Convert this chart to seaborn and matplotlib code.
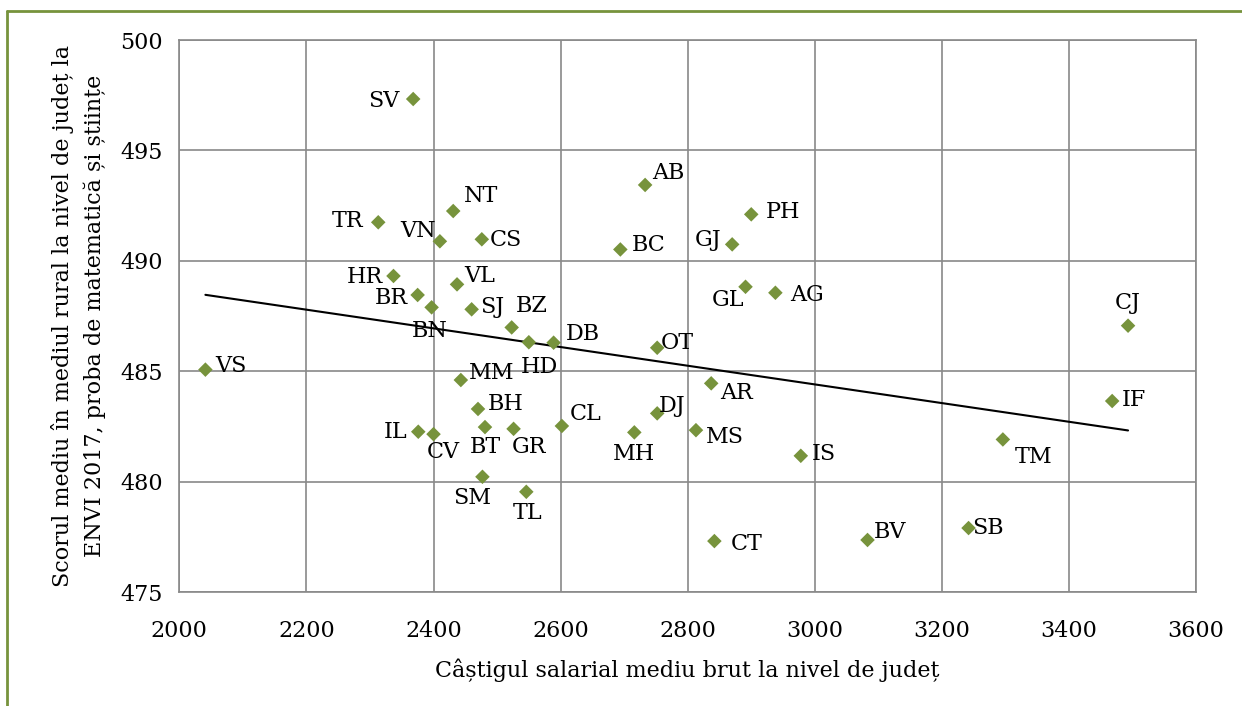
import numpy as np
import pandas as pd
import seaborn as sns
import matplotlib.pyplot as plt
from matplotlib.lines import Line2D

# date
judete = ['SV', 'NT', 'TR', 'VN', 'CS', 'HR', 'VL', 'BR', 'BN', 'SJ', 'BZ', 'HD', 'VS', 'MM',
          'BH', 'IL', 'CV', 'BT', 'GR', 'SM', 'TL', 'AB', 'PH', 'BC', 'GJ', 'GL', 'AG', 'DB',
          'OT', 'AR', 'CL', 'DJ', 'MH', 'MS', 'IS', 'CT', 'BV', 'CJ', 'IF', 'TM', 'SB']
salariu = [2368, 2431, 2313, 2410, 2476, 2337, 2437, 2375, 2397, 2460, 2523, 2550, 2041, 2443,
           2470, 2376, 2400, 2481, 2526, 2477, 2546, 2733, 2900, 2694, 2870, 2891, 2938, 2589,
           2752, 2837, 2602, 2752, 2716, 2813, 2978, 2842, 3083, 3493, 3468, 3296, 3242]
scor = [497.33, 492.26, 491.75, 490.89, 490.98, 489.32, 488.94, 488.46, 487.90, 487.81, 486.99,
        486.32, 485.08, 484.61, 483.30, 482.27, 482.16, 482.48, 482.40, 480.23, 479.55, 493.44,
        492.11, 490.52, 490.75, 488.83, 488.56, 486.30, 486.07, 484.46, 482.53, 483.10, 482.24,
        482.34, 481.18, 477.32, 477.37, 487.07, 483.66, 481.92, 477.91]

x_ticks = [2000, 2200, 2400, 2600, 2800, 3000, 3200, 3400, 3600]
y_ticks = [475, 480, 485, 490, 495, 500]

# przesuniecia etykiet (piksele, y w dol)
etykiety_offset = {
    'SV': (-29, 2), 'NT': (28, -15), 'TR': (-31, -1), 'VN': (-22, -10), 'CS': (24, 1),
    'HR': (-29, 1), 'VL': (23, -8), 'BR': (-26, 3), 'BN': (-2, 24), 'SJ': (21, -2),
    'BZ': (20, -21), 'HD': (11, 25), 'VS': (26, -4), 'MM': (31, -7), 'BH': (28, -5),
    'IL': (-23, 0), 'CV': (10, 18), 'BT': (0, 20), 'GR': (15, 18), 'SM': (-10, 21),
    'TL': (1, 21), 'AB': (23, -12), 'PH': (32, -2), 'BC': (28, -4), 'GJ': (-24, -4),
    'GL': (-18, 13), 'AG': (32, 2), 'DB': (29, -9), 'OT': (20, -5), 'AR': (25, 10),
    'CL': (24, -12), 'DJ': (15, -7), 'MH': (0, 22), 'MS': (29, 7), 'IS': (23, -2),
    'CT': (32, 3), 'BV': (23, -8), 'CJ': (0, -23), 'IF': (22, -1), 'TM': (31, 18),
    'SB': (19, 0),
}

df = pd.DataFrame({'judet': judete, 'salariu': salariu, 'scor': scor})

sns.set_style('white')
plt.rcParams['font.family'] = ['DejaVu Serif']
FS = 16
gri = '#898989'
oliv = '#77933c'

fig = plt.figure(figsize=(12.42, 7.06), dpi=100)
ax = fig.add_axes([0.1444, 0.161, 0.9630 - 0.1444, 0.9433 - 0.161])

ax.set_axisbelow(True)
ax.grid(True, color=gri, linewidth=1.2)

sns.regplot(data=df, x='salariu', y='scor', scatter=False, ci=None, ax=ax,
            line_kws={'color': 'black', 'linewidth': 1.5})
sns.scatterplot(data=df, x='salariu', y='scor', marker='D', s=55, color=oliv,
                edgecolor='none', ax=ax, zorder=3)

for _, r in df.iterrows():
    dx, dy = etykiety_offset[r['judet']]
    ax.annotate(r['judet'], (r['salariu'], r['scor']), xytext=(dx, -dy),
                textcoords='offset pixels', ha='center', va='center', fontsize=FS, color='black')

ax.set_xlim(2000, 3600)
ax.set_ylim(475, 500)
ax.set_xticks(x_ticks)
ax.set_yticks(y_ticks)
ax.tick_params(axis='both', length=0, labelsize=FS, colors='black')
ax.tick_params(axis='x', pad=20)
ax.tick_params(axis='y', pad=12)
for s in ax.spines.values():
    s.set_visible(True)
    s.set_color(gri)
    s.set_linewidth(1.2)

ax.set_xlabel('Câștigul salarial mediu brut la nivel de județ', fontsize=FS, labelpad=12,
              color='black')
ax.set_ylabel('Scorul mediu în mediul rural la nivel de județ la\nENVI 2017, proba de matematică și științe',
              fontsize=FS, labelpad=10, linespacing=1.55, color='black')

# ramka verde sus si stanga
fig.add_artist(Line2D([0.0055, 1.0], [1 - 11 / 706, 1 - 11 / 706], color=oliv, linewidth=2,
                      transform=fig.transFigure))
fig.add_artist(Line2D([6.5 / 1242, 6.5 / 1242], [0, 1 - 11 / 706], color=oliv, linewidth=2,
                      transform=fig.transFigure))

plt.savefig('out.png', dpi=100)
